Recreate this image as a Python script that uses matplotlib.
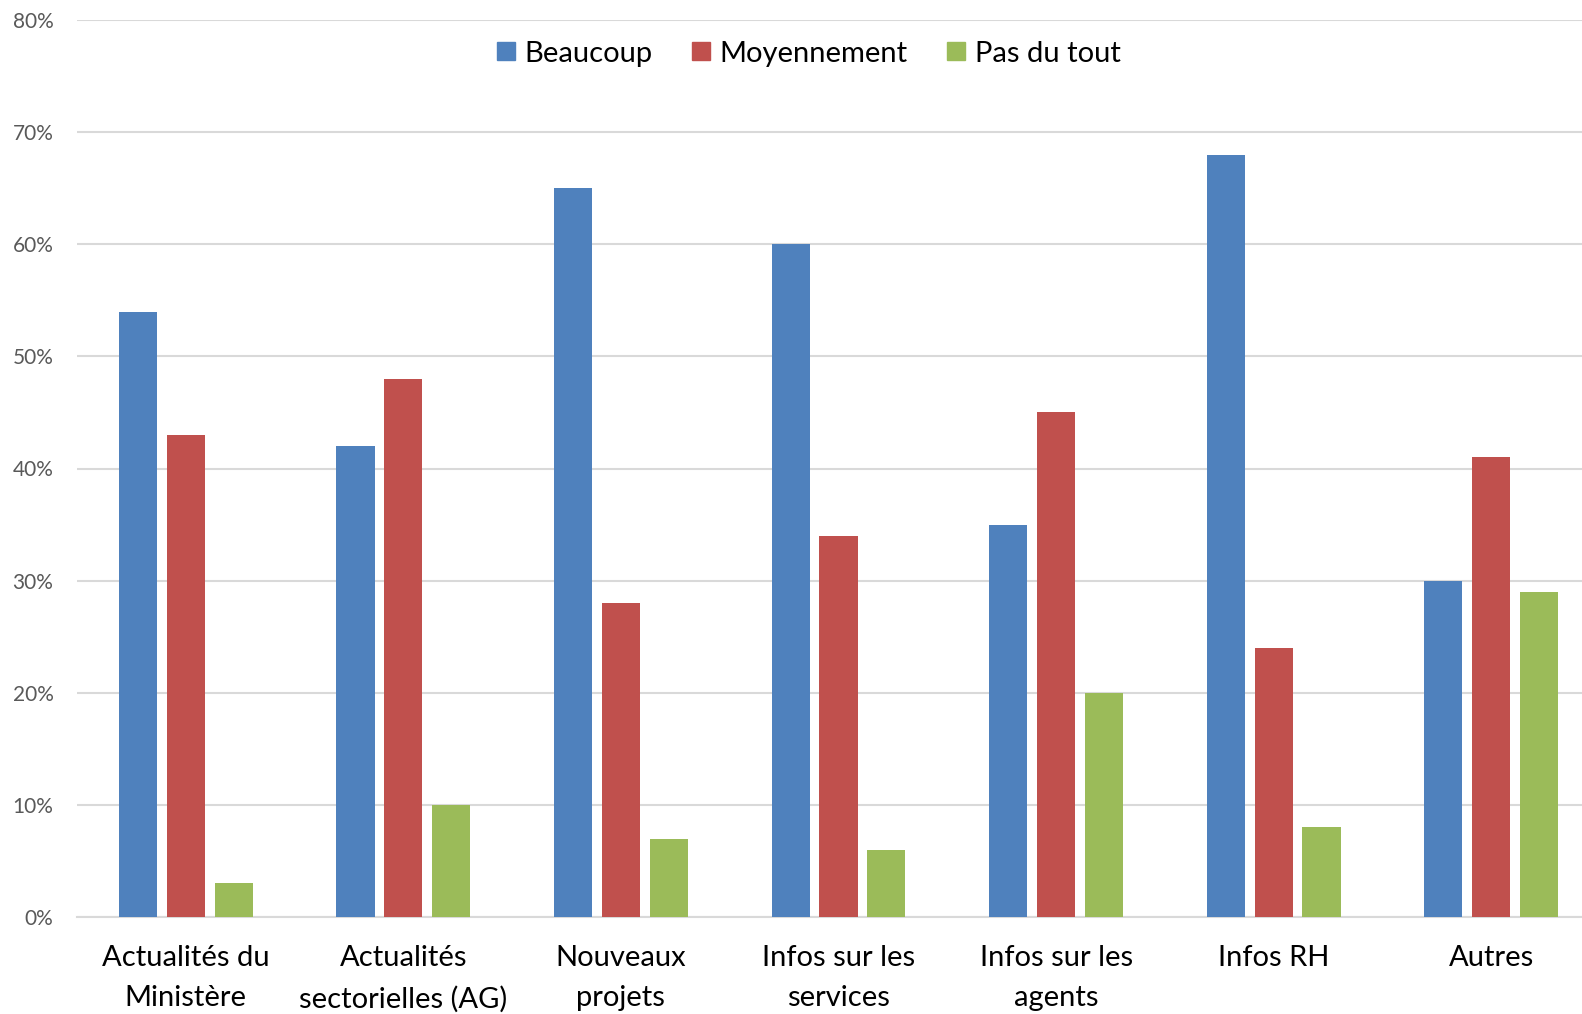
import matplotlib
matplotlib.use("Agg")
import matplotlib.pyplot as plt
import numpy as np
from matplotlib.ticker import PercentFormatter
from matplotlib.lines import Line2D

categories = ["Actualités du\nMinistère", "Actualités\nsectorielles (AG)", "Nouveaux\nprojets",
              "Infos sur les\nservices", "Infos sur les\nagents", "Infos RH", "Autres"]
beaucoup = [54, 42, 65, 60, 35, 68, 30]
moyennement = [43, 48, 28, 34, 45, 24, 41]
pas_du_tout = [3, 10, 7, 6, 20, 8, 29]
series_names = ["Beaucoup", "Moyennement", "Pas du tout"]
colors = ["#4F81BD", "#C0504D", "#9BBB59"]

plt.rcParams['font.family'] = ['Lato', 'DejaVu Sans']

W, H = 1582, 1014
fig = plt.figure(figsize=(W/100, H/100), dpi=100)
left, right, bottom, top = 77, 1600, 917, 20
ax = fig.add_axes([left/W, 1-bottom/H, (right-left)/W, (bottom-top)/H])

x = np.arange(len(categories))
w = 0.175
off = 0.22
for vals, c, o, name in zip([beaucoup, moyennement, pas_du_tout], colors, [-off, 0, off], series_names):
    ax.bar(x + o, vals, width=w, color=c, label=name, zorder=3)

ax.set_xlim(-0.5, len(categories) - 0.5)
ax.set_ylim(0, 80)
ax.set_yticks(np.arange(0, 81, 10))
ax.yaxis.set_major_formatter(PercentFormatter(decimals=0))
ax.grid(axis='y', color='#D9D9D9', linewidth=1.5, zorder=0)
for s in ['top', 'right', 'left']:
    ax.spines[s].set_visible(False)
ax.spines['bottom'].set_color('#D9D9D9')
ax.spines['bottom'].set_linewidth(1.5)
ax.tick_params(axis='y', length=0, pad=17, labelsize=15, labelcolor='#595959')
ax.tick_params(axis='x', length=0, pad=20.5, labelsize=21, labelcolor='#000000')
ax.set_xticks(x)
ax.set_xticklabels(categories, linespacing=1.66)

handles = [Line2D([0], [0], marker='s', linestyle='none', markersize=12.3,
                  markerfacecolor=c, markeredgecolor=c) for c in colors]
ax.legend(handles, series_names, loc='center', bbox_to_anchor=(0.4800, 0.9625), ncol=3,
          frameon=False, fontsize=21, handletextpad=0.3, columnspacing=1.3,
          handlelength=0.7)

fig.savefig("out.png", dpi=100)
